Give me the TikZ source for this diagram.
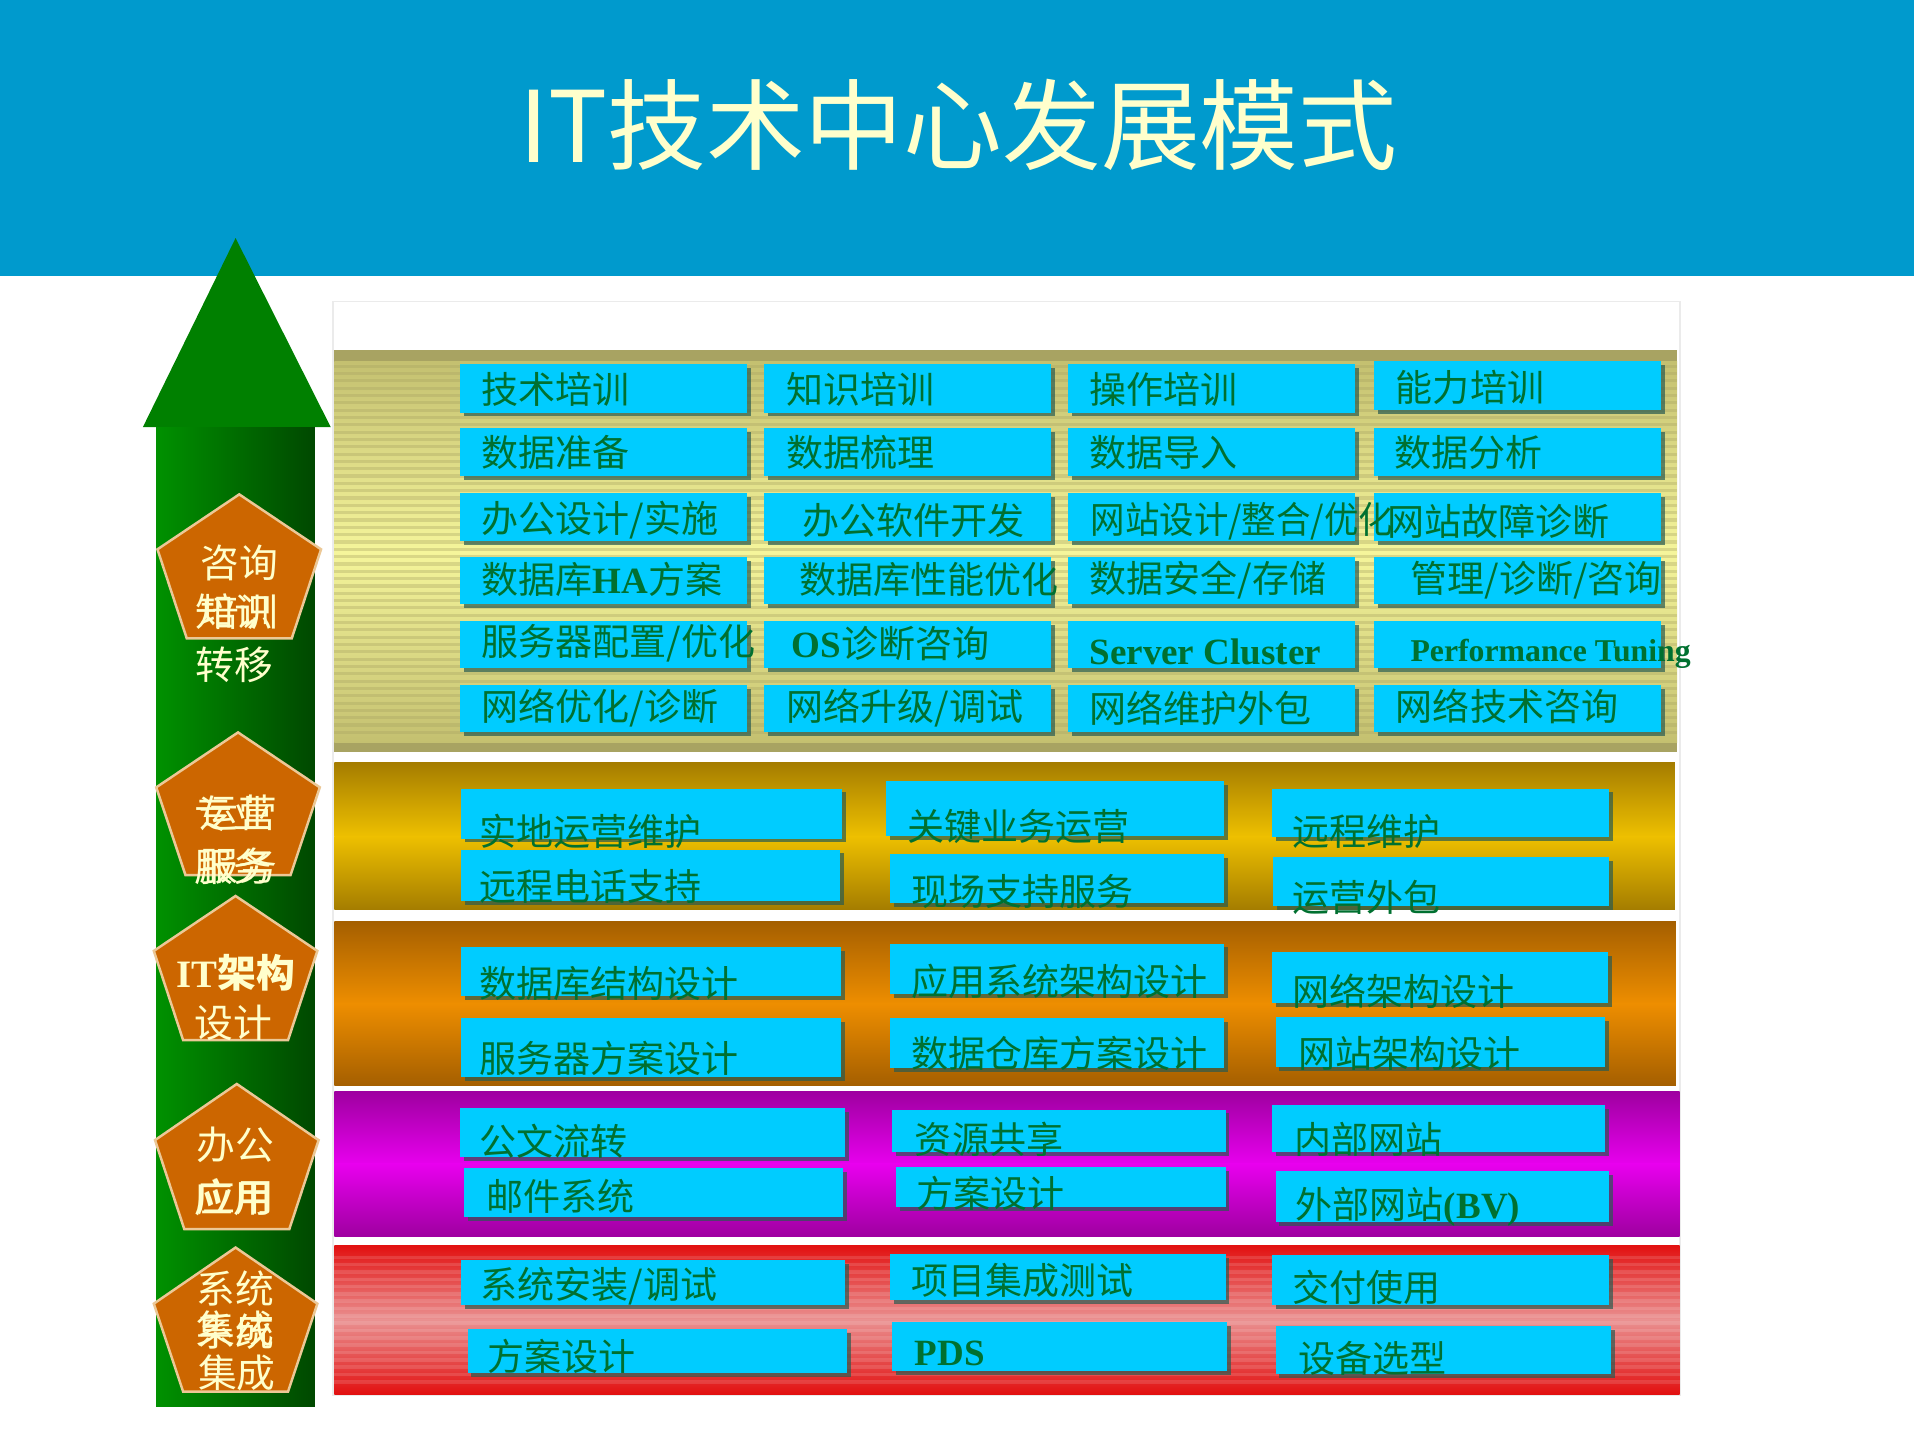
\documentclass[tikz,border=0pt]{standalone}
\usepackage{fontspec}
\setmainfont{Noto Sans CJK SC}
\newfontfamily\tnr{Liberation Serif}
\usetikzlibrary{shadows}
\definecolor{banner}{RGB}{0,154,205}
\definecolor{cream}{RGB}{255,255,204}
\definecolor{boxcyan}{RGB}{0,204,255}
\definecolor{txtgreen}{RGB}{0,112,48}
\definecolor{pentorange}{RGB}{204,102,0}
\definecolor{pentedge}{RGB}{236,200,150}
\definecolor{arrowgreen}{RGB}{0,128,0}
\definecolor{shaftL}{RGB}{0,145,0}
\definecolor{shaftR}{RGB}{0,72,0}
\definecolor{oliveA}{RGB}{168,163,98}
\definecolor{oliveB}{RGB}{196,192,112}
\definecolor{paleyel}{RGB}{245,245,155}
\definecolor{goldA}{RGB}{165,125,0}
\definecolor{goldB}{RGB}{238,192,0}
\definecolor{orA}{RGB}{165,95,0}
\definecolor{orB}{RGB}{238,142,0}
\definecolor{magA}{RGB}{158,0,160}
\definecolor{magB}{RGB}{232,0,238}
\definecolor{redA}{RGB}{226,16,16}
\definecolor{redB}{RGB}{234,145,145}
\definecolor{shadowc}{RGB}{40,90,80}
\newcommand\serb[1]{{\tnr\bfseries #1}}
\newcommand\cbox[5]{\node[cbox, minimum width={(#4-#2)*0.3461pt}, minimum height={(#5-#3)*0.3461pt}] (#1) at ({(#2+#4)/2},{(#3+#5)/2}) {};}
\newcommand\vshade[6]{%
  \shade[top color=#5, bottom color=#6] (#1,#2) rectangle (#3,{(#2+#4)/2+0.5});
  \shade[top color=#6, bottom color=#5] (#1,{(#2+#4)/2}) rectangle (#3,#4);}
\begin{document}
\begin{tikzpicture}[x=0.3461pt,y=-0.3461pt,
  cbox/.style={fill=boxcyan, inner sep=0, draw=none, drop shadow={shadow xshift=1.1pt, shadow yshift=-1.1pt, fill=shadowc, opacity=0.7}},
  lbl/.style={anchor=west, inner sep=0, text=txtgreen, font=\fontsize{10.5}{12}\selectfont},
  plbl/.style={inner sep=0, text=cream, font=\fontsize{11}{13}\selectfont},
  pent/.style={fill=pentorange, draw=pentedge, line width=0.7pt, line join=miter},
  ttl/.style={inner sep=0, text=cream, font=\fontsize{28}{30}\selectfont}
]
\useasboundingbox (0,0) rectangle (1568,1177);
\fill[white] (0,0) rectangle (1568,1177);
% banner
\fill[banner] (0,0) rectangle (1568,226);
\node[ttl] (title) at (785,102) {IT技术中心发展模式};
% panel
\draw[fill=white, draw=black!8, line width=0.5pt] (273,247) rectangle (1376,1143);
% layer 1
\fill[oliveA] (274,287) rectangle (1374,616);
\vshade{274}{296}{1374}{608}{oliveB}{paleyel}
\foreach \yy in {300,306,...,604} \draw[oliveA, opacity=0.35, line width=0.9pt] (274,\yy) -- (1374,\yy);
% layer 2
\vshade{274}{625}{1372}{745}{goldA}{goldB}
% layer 3
\vshade{274}{755}{1373}{889}{orA}{orB}
% layer 4
\vshade{274}{894}{1376}{1013}{magA}{magB}
% layer 5
\vshade{274}{1020}{1376}{1142}{redA}{redB}
\foreach \yy in {1030,1036,...,1134} \draw[white, opacity=0.12, line width=1pt] (274,\yy) -- (1376,\yy);
% arrow
\fill[arrowgreen] (193,195) -- (271,350) -- (117,350) -- cycle;
\shade[left color=shaftL, right color=shaftR] (128,350) rectangle (258,1152);
% pentagons
\path[pent] (196,405) coordinate (p1) -- ++(-67,45) -- ++(24,73) -- ++(86,0) -- ++(24,-73) -- cycle;
\path[pent] (195,600) coordinate (p2) -- ++(-67,45) -- ++(24,72) -- ++(86,0) -- ++(24,-72) -- cycle;
\path[pent] (193,734) coordinate (p3) -- ++(-67,45) -- ++(24,73) -- ++(86,0) -- ++(24,-73) -- cycle;
\path[pent] (194,888) coordinate (p4) -- ++(-67,46) -- ++(24,73) -- ++(86,0) -- ++(24,-73) -- cycle;
\path[pent] (193,1022) coordinate (p5) -- ++(-67,46) -- ++(24,72) -- ++(86,0) -- ++(24,-72) -- cycle;
% pentagon labels
\node[plbl] (p1a) at (196,461) {咨询};
\node[plbl] (p1b) at (196,501) {培训};
\node[plbl] (p1c) at (192,501) {知识};
\node[plbl] (p1d) at (192,545) {转移};
\node[plbl] (p2a) at (195,666) {运营};
\node[plbl] (p2b) at (195,709) {服务};
\node[plbl] (p2c) at (191,667) {专业};
\node[plbl] (p2d) at (191,710) {服务};
\node[plbl, font=\fontsize{11}{13}\selectfont\bfseries] (p3a) at (193,797) {\serb{IT}架构};
\node[plbl] (p3b) at (191,838) {设计};
\node[plbl] (p4a) at (193,938) {办公};
\node[plbl] (p4b) at (193,980) {应用};
\node[plbl] (p4c) at (191,981) {应用};
\node[plbl] (p5a) at (193,1056) {系统};
\node[plbl] (p5b) at (193,1089) {集成};
\node[plbl] (p5c) at (193,1091) {系统};
\node[plbl] (p5d) at (194,1125) {集成};
% ---- layer 1 boxes
\cbox{a11}{377}{298}{612}{338}\cbox{a12}{626}{298}{861}{338}\cbox{a13}{875}{298}{1110}{338}\cbox{a14}{1126}{296}{1361}{336}
\cbox{a21}{377}{351}{612}{390}\cbox{a22}{626}{351}{861}{390}\cbox{a23}{875}{351}{1110}{390}\cbox{a24}{1126}{351}{1361}{390}
\cbox{a31}{377}{404}{612}{443}\cbox{a32}{626}{404}{861}{443}\cbox{a33}{875}{404}{1110}{443}\cbox{a34}{1126}{404}{1361}{443}
\cbox{a41}{377}{456}{612}{495}\cbox{a42}{626}{456}{861}{495}\cbox{a43}{875}{456}{1110}{495}\cbox{a44}{1126}{456}{1361}{495}
\cbox{a51}{377}{509}{612}{547}\cbox{a52}{626}{509}{861}{547}\cbox{a53}{875}{509}{1110}{547}\cbox{a54}{1126}{509}{1361}{547}
\cbox{a61}{377}{561}{612}{600}\cbox{a62}{626}{561}{861}{600}\cbox{a63}{875}{561}{1110}{600}\cbox{a64}{1126}{561}{1361}{600}
% layer 1 labels
\node[lbl] (t11) at (394,319) {技术培训};
\node[lbl] (t12) at (644,319) {知识培训};
\node[lbl] (t13) at (892,319) {操作培训};
\node[lbl] (t14) at (1143,317) {能力培训};
\node[lbl] (t21) at (394,371) {数据准备};
\node[lbl] (t22) at (644,371) {数据梳理};
\node[lbl] (t23) at (892,371) {数据导入};
\node[lbl] (t24) at (1142,371) {数据分析};
\node[lbl] (t31) at (394,426) {办公设计/实施};
\node[lbl] (t32) at (657,426) {办公软件开发};
\node[lbl, xscale=0.93] (t33) at (893,427) {网站设计/整合/优化};
\node[lbl] (t34) at (1136,427) {网站故障诊断};
\node[lbl] (t41) at (394,475) {数据库\serb{HA}方案};
\node[lbl] (t42) at (654,475) {数据库性能优化};
\node[lbl] (t43) at (892,475) {数据安全/存储};
\node[lbl] (t44) at (1155,475) {管理/诊断/咨询};
\node[lbl] (t51) at (394,527) {服务器配置/优化};
\node[lbl] (t52) at (648,527) {\serb{OS}诊断咨询};
\node[lbl, font=\fontsize{10.5}{12}\tnr\bfseries] (t53) at (892,534) {Server Cluster};
\node[lbl, font=\fontsize{9}{11}\tnr\bfseries] (t54) at (1155,536) {Performance Tuning};
\node[lbl] (t61) at (394,580) {网络优化/诊断};
\node[lbl] (t62) at (644,580) {网络升级/调试};
\node[lbl] (t63) at (892,580) {网络维护外包};
\node[lbl] (t64) at (1143,579) {网络技术咨询};
% ---- layer 2
\cbox{b11}{378}{646}{690}{687}\cbox{b21}{378}{696}{688}{738}
\cbox{b12}{726}{640}{1003}{685}\cbox{b22}{729}{700}{1003}{740}
\cbox{b13}{1042}{646}{1318}{686}\cbox{b23}{1043}{702}{1318}{742}
\node[lbl] (u11) at (392,681) {实地运营维护};
\node[lbl] (u21) at (392,726) {远程电话支持};
\node[lbl] (u12) at (743,677) {关键业务运营};
\node[lbl] (u22) at (746,730) {现场支持服务};
\node[lbl] (u13) at (1058,681) {远程维护};
\node[lbl] (u23) at (1058,735) {运营外包};
% ---- layer 3
\cbox{c11}{378}{776}{689}{816}\cbox{c21}{378}{834}{689}{882}
\cbox{c12}{729}{773}{1003}{814}\cbox{c22}{729}{834}{1003}{875}
\cbox{c13}{1042}{780}{1317}{822}\cbox{c23}{1045}{833}{1315}{874}
\node[lbl] (v11) at (392,806) {数据库结构设计};
\node[lbl] (v21) at (392,867) {服务器方案设计};
\node[lbl] (v12) at (746,804) {应用系统架构设计};
\node[lbl] (v22) at (746,863) {数据仓库方案设计};
\node[lbl] (v13) at (1058,812) {网络架构设计};
\node[lbl] (v23) at (1063,863) {网站架构设计};
% ---- layer 4
\cbox{d11}{377}{908}{692}{948}\cbox{d21}{380}{957}{691}{997}
\cbox{d12}{731}{909}{1004}{944}\cbox{d22}{734}{956}{1004}{989}
\cbox{d13}{1042}{905}{1315}{944}\cbox{d23}{1045}{959}{1318}{1001}
\node[lbl] (w11) at (392,935) {公文流转};
\node[lbl] (w21) at (398,980) {邮件系统};
\node[lbl] (w12) at (749,933) {资源共享};
\node[lbl] (w22) at (750,978) {方案设计};
\node[lbl] (w13) at (1060,933) {内部网站};
\node[lbl] (w23) at (1061,989) {外部网站\serb{(BV)}};
% ---- layer 5
\cbox{e11}{378}{1032}{692}{1069}\cbox{e21}{383}{1089}{694}{1125}
\cbox{e12}{729}{1027}{1004}{1065}\cbox{e22}{731}{1083}{1005}{1123}
\cbox{e13}{1042}{1028}{1318}{1069}\cbox{e23}{1045}{1086}{1320}{1126}
\node[lbl] (x11) at (393,1054) {系统安装/调试};
\node[lbl] (x21) at (399,1111) {方案设计};
\node[lbl] (x12) at (746,1049) {项目集成测试};
\node[lbl, font=\fontsize{10.5}{12}\tnr\bfseries] (x22) at (749,1109) {PDS};
\node[lbl] (x13) at (1058,1055) {交付使用};
\node[lbl] (x23) at (1063,1113) {设备选型};
\end{tikzpicture}
\end{document}
